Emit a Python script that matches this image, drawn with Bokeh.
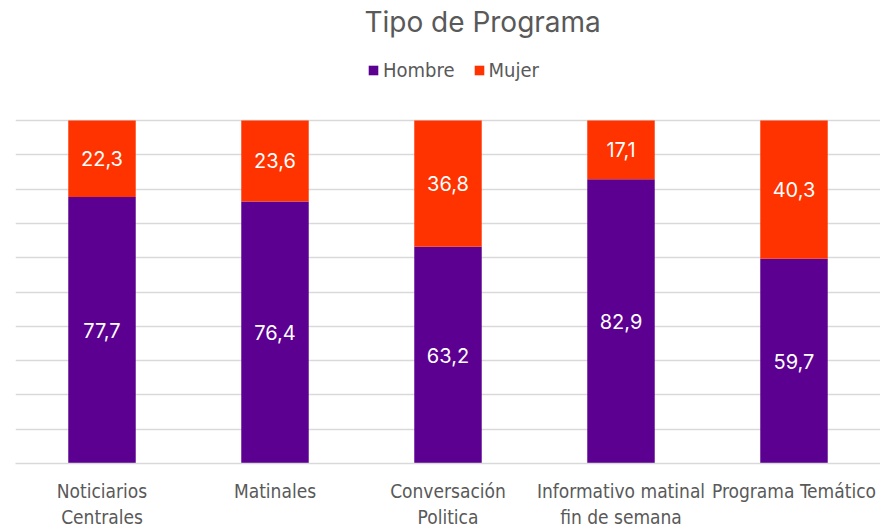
from bokeh.plotting import figure
from bokeh.models import ColumnDataSource, FactorRange, Range1d, Legend, LegendItem, LabelSet, Label
from bokeh.core.properties import value
from bokeh.embed import file_html
from bokeh.resources import INLINE

categories = ["Noticiarios\nCentrales", "Matinales", "Conversación\nPolitica",
              "Informativo matinal\nfin de semana", "Programa Temático"]
hombre = [77.7, 76.4, 63.2, 82.9, 59.7]
mujer = [22.3, 23.6, 36.8, 17.1, 40.3]
series = ["Hombre", "Mujer"]
colors = ["#5B0090", "#FF3300"]
title = "Tipo de Programa"

NARROW = "'DejaVu Sans Condensed', Roboto, sans-serif"

fmt = lambda v: f"{v:.1f}".replace(".", ",")
src = ColumnDataSource(dict(
    cat=categories, Hombre=hombre, Mujer=mujer,
    y_h=[h / 2 for h in hombre],
    y_m=[h + m / 2 for h, m in zip(hombre, mujer)],
    t_h=[fmt(v) for v in hombre],
    t_m=[fmt(v) for v in mujer],
))

p = figure(x_range=FactorRange(*categories), y_range=Range1d(0, 134.99),
           frame_width=865, frame_height=463, output_backend="svg", toolbar_location=None,
           min_border_left=15, min_border_right=0, min_border_top=0, min_border_bottom=0)

rs = p.vbar_stack(series, x="cat", width=0.39, color=colors, source=src, line_color=None)

for y, t in (("y_h", "t_h"), ("y_m", "t_m")):
    p.add_layout(LabelSet(x="cat", y=y, text=t, source=src, text_color="white",
                          text_font=value("Inter"), text_font_size="20px",
                          text_align="center", text_baseline="middle"))

p.add_layout(Label(x=2.7, y=128.58, text=title, text_font="Inter",
                   text_font_size="28px", text_color="#595959",
                   text_align="center", text_baseline="middle"))

legend = Legend(items=[LegendItem(label=s, renderers=[r]) for s, r in zip(series, rs)],
                orientation="horizontal", location=(352, 381),
                label_text_font=NARROW, label_text_font_size="20px",
                label_text_color="#595959", glyph_width=12, glyph_height=12,
                border_line_color=None, background_fill_alpha=0, spacing=18,
                label_standoff=4, padding=0, margin=0)
p.add_layout(legend, "center")

p.yaxis.visible = False
p.yaxis.ticker = list(range(0, 101, 10))
p.ygrid.grid_line_color = "#d9d9d9"
p.ygrid.grid_line_width = 1.5
p.xgrid.grid_line_color = None
p.outline_line_color = None
p.xaxis.axis_line_color = "#d9d9d9"
p.xaxis.axis_line_width = 1.5
p.xaxis.major_tick_line_color = None
p.xaxis.minor_tick_line_color = None
p.xaxis.major_tick_out = 0
p.xaxis.major_tick_in = 0
p.xaxis.major_label_text_font = NARROW
p.xaxis.major_label_text_font_size = "19px"
p.xaxis.major_label_text_color = "#595959"
p.xaxis.major_label_standoff = 16

open("out.html", "w").write(file_html(p, INLINE))
